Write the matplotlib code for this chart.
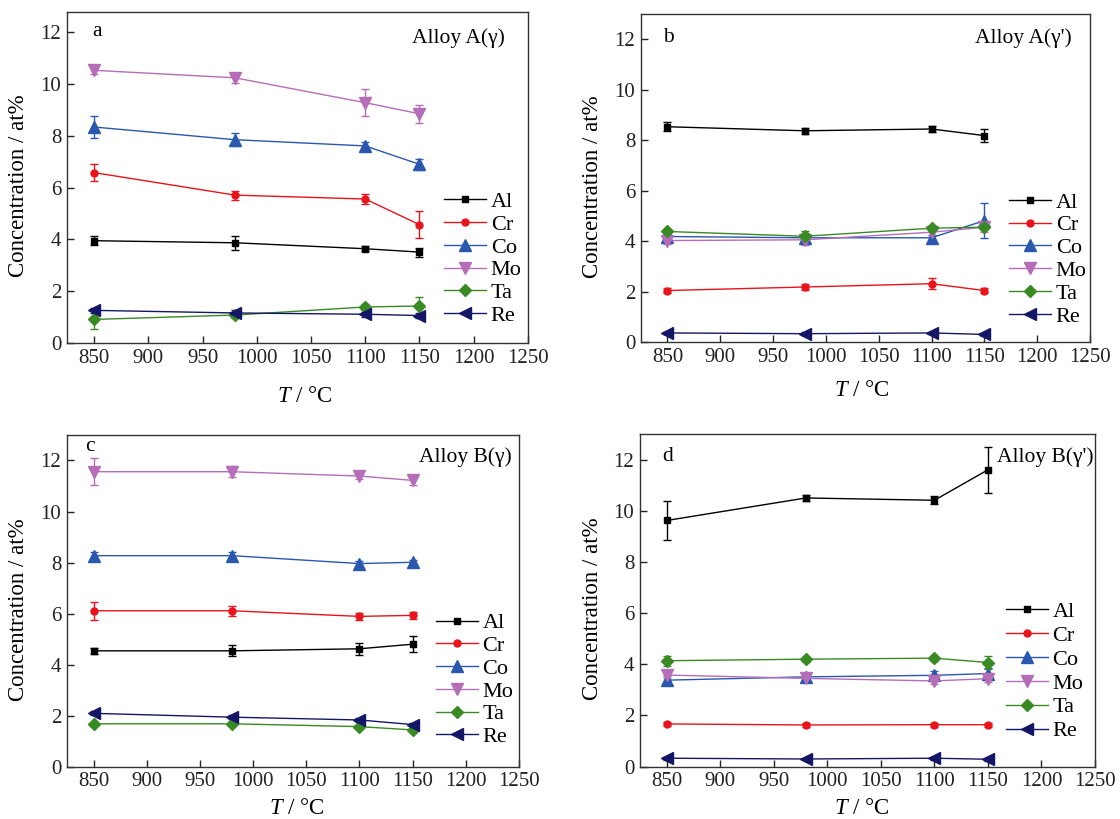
import matplotlib
matplotlib.use("Agg")
import matplotlib.pyplot as plt
from matplotlib.lines import Line2D

plt.rcParams['font.family'] = ['Liberation Serif', 'DejaVu Serif']
plt.rcParams['mathtext.fontset'] = 'custom'
plt.rcParams['mathtext.rm'] = 'Liberation Serif'
plt.rcParams['mathtext.it'] = 'Liberation Serif:italic'

temps = [850, 980, 1100, 1150]
elements = ['Al', 'Cr', 'Co', 'Mo', 'Ta', 'Re']

# Panel a: Alloy A(gamma)
a_vals = {
    'Al': [3.95, 3.87, 3.64, 3.51],
    'Cr': [6.58, 5.71, 5.56, 4.57],
    'Co': [8.34, 7.85, 7.61, 6.90],
    'Mo': [10.53, 10.24, 9.28, 8.85],
    'Ta': [0.91, 1.08, 1.39, 1.43],
    'Re': [1.26, 1.16, 1.11, 1.06],
}
a_errs = {
    'Al': [0.18, 0.28, 0.10, 0.17],
    'Cr': [0.32, 0.17, 0.21, 0.53],
    'Co': [0.44, 0.24, 0.17, 0.22],
    'Mo': [0.15, 0.19, 0.53, 0.34],
    'Ta': [0.37, 0.10, 0.12, 0.35],
    'Re': [0.10, 0.10, 0.10, 0.10],
}
# Panel b: Alloy A(gamma')
b_vals = {
    'Al': [8.53, 8.37, 8.44, 8.18],
    'Cr': [2.04, 2.18, 2.31, 2.04],
    'Co': [4.18, 4.13, 4.13, 4.81],
    'Mo': [4.02, 4.05, 4.35, 4.55],
    'Ta': [4.38, 4.19, 4.51, 4.55],
    'Re': [0.36, 0.33, 0.36, 0.30],
}
b_errs = {
    'Al': [0.17, 0.12, 0.12, 0.25],
    'Cr': [0.10, 0.12, 0.22, 0.10],
    'Co': [0.10, 0.10, 0.10, 0.70],
    'Mo': [0.15, 0.20, 0.10, 0.20],
    'Ta': [0.10, 0.20, 0.10, 0.10],
    'Re': [0.05, 0.05, 0.05, 0.05],
}
# Panel c: Alloy B(gamma)
c_vals = {
    'Al': [4.54, 4.54, 4.62, 4.80],
    'Cr': [6.11, 6.11, 5.89, 5.93],
    'Co': [8.27, 8.27, 7.96, 8.01],
    'Mo': [11.56, 11.56, 11.39, 11.22],
    'Ta': [1.68, 1.68, 1.57, 1.44],
    'Re': [2.09, 1.94, 1.83, 1.65],
}
c_errs = {
    'Al': [0.12, 0.22, 0.23, 0.31],
    'Cr': [0.36, 0.20, 0.14, 0.14],
    'Co': [0.15, 0.15, 0.10, 0.10],
    'Mo': [0.53, 0.22, 0.12, 0.20],
    'Ta': [0.08, 0.08, 0.08, 0.08],
    'Re': [0.08, 0.08, 0.08, 0.08],
}
# Panel d: Alloy B(gamma')
d_vals = {
    'Al': [9.62, 10.50, 10.41, 11.60],
    'Cr': [1.67, 1.63, 1.64, 1.64],
    'Co': [3.38, 3.51, 3.57, 3.64],
    'Mo': [3.58, 3.45, 3.35, 3.44],
    'Ta': [4.14, 4.20, 4.24, 4.07],
    'Re': [0.33, 0.30, 0.33, 0.29],
}
d_errs = {
    'Al': [0.77, 0.12, 0.15, 0.89],
    'Cr': [0.08, 0.08, 0.08, 0.08],
    'Co': [0.15, 0.10, 0.15, 0.20],
    'Mo': [0.12, 0.12, 0.12, 0.12],
    'Ta': [0.20, 0.10, 0.10, 0.25],
    'Re': [0.05, 0.05, 0.05, 0.05],
}

panel_letters = ['a', 'b', 'c', 'd']
panel_titles = ['Alloy A(γ)', "Alloy A(γ')", 'Alloy B(γ)', "Alloy B(γ')"]
xticks = [850, 900, 950, 1000, 1050, 1100, 1150, 1200, 1250]
yticks = [0, 2, 4, 6, 8, 10, 12]

colors = {'Al': '#000000', 'Cr': '#e8131b', 'Co': '#2958ae', 'Mo': '#b56db8',
          'Ta': '#3a8a24', 'Re': '#141666'}
markers = {'Al': 's', 'Cr': 'o', 'Co': '^', 'Mo': 'v', 'Ta': 'D', 'Re': '<'}
msizes = {'Al': 5, 'Cr': 5, 'Co': 8, 'Mo': 8, 'Ta': 6, 'Re': 8}

FS_TICK = 15
FS_LAB = 16.5
FS_LEG = 16
FS_TXT = 15.5

fig = plt.figure(figsize=(11.2, 8.19), dpi=100)

rects = [
    (0.0598, 0.5812, 0.4116, 0.4041),
    (0.5723, 0.5824, 0.4009, 0.4006),
    (0.0598, 0.0639, 0.4036, 0.4050),
    (0.5714, 0.0639, 0.4063, 0.4062),
]
ytops = [12.78, 13.0, 13.0, 13.0]
leg_anchor = [(0.818, 0.458), (0.82, 0.457), (0.816, 0.464), (0.804, 0.497)]
leg_spacing = [0.1, 0.1, 0.1, 0.15]
letter_pos = [(0.054, 0.94), (0.049, 0.927), (0.04, 0.964), (0.05, 0.931)]
title_pos = [(0.95, 0.92), (0.96, 0.927), (0.985, 0.934), (0.997, 0.931)]
ylab_pos = [(-0.106, 0.474), (-0.109, 0.474), (-0.108, 0.474), (-0.105, 0.474)]
xlab_pos = [(0.516, -0.162), (0.492, -0.148), (0.509, -0.125), (0.488, -0.125)]
datasets = [(a_vals, a_errs), (b_vals, b_errs), (c_vals, c_errs), (d_vals, d_errs)]

for i, (vals, errs) in enumerate(datasets):
    ax = fig.add_axes(rects[i])
    for el in elements:
        ax.errorbar(temps, vals[el], yerr=errs[el], color=colors[el],
                    marker=markers[el], markersize=msizes[el], linewidth=1.0,
                    elinewidth=1.0, capsize=3, capthick=1.0)
    ax.set_xlim(825, 1250)
    ax.set_ylim(0, ytops[i])
    ax.set_xticks(xticks)
    ax.set_yticks(yticks)
    ax.tick_params(direction='in', length=5, width=1, labelsize=FS_TICK, pad=4,
                   colors='#222222')
    for s in ax.spines.values():
        s.set_linewidth(1.0)
        s.set_color('#333333')
    ax.set_xlabel(r'$T$ / °C', fontsize=FS_LAB)
    ax.xaxis.set_label_coords(*xlab_pos[i])
    ax.xaxis.label.set_va('center')
    ax.set_ylabel('Concentration / at%', fontsize=FS_LAB)
    ax.yaxis.set_label_coords(*ylab_pos[i])
    ax.yaxis.label.set_va('center')
    ax.text(letter_pos[i][0], letter_pos[i][1], panel_letters[i], transform=ax.transAxes,
            fontsize=FS_TXT, ha='left', va='center')
    ax.text(title_pos[i][0], title_pos[i][1], panel_titles[i], transform=ax.transAxes,
            fontsize=FS_TXT, ha='right', va='center')
    handles = [Line2D([], [], color=colors[el], marker=markers[el],
                      markersize=msizes[el], linewidth=1.0) for el in elements]
    ax.legend(handles, elements, loc='upper left', bbox_to_anchor=leg_anchor[i],
              frameon=False, fontsize=FS_LEG, handlelength=1.9, handletextpad=0.2,
              labelspacing=leg_spacing[i], borderpad=0, borderaxespad=0)

fig.savefig('out.png', dpi=100)
